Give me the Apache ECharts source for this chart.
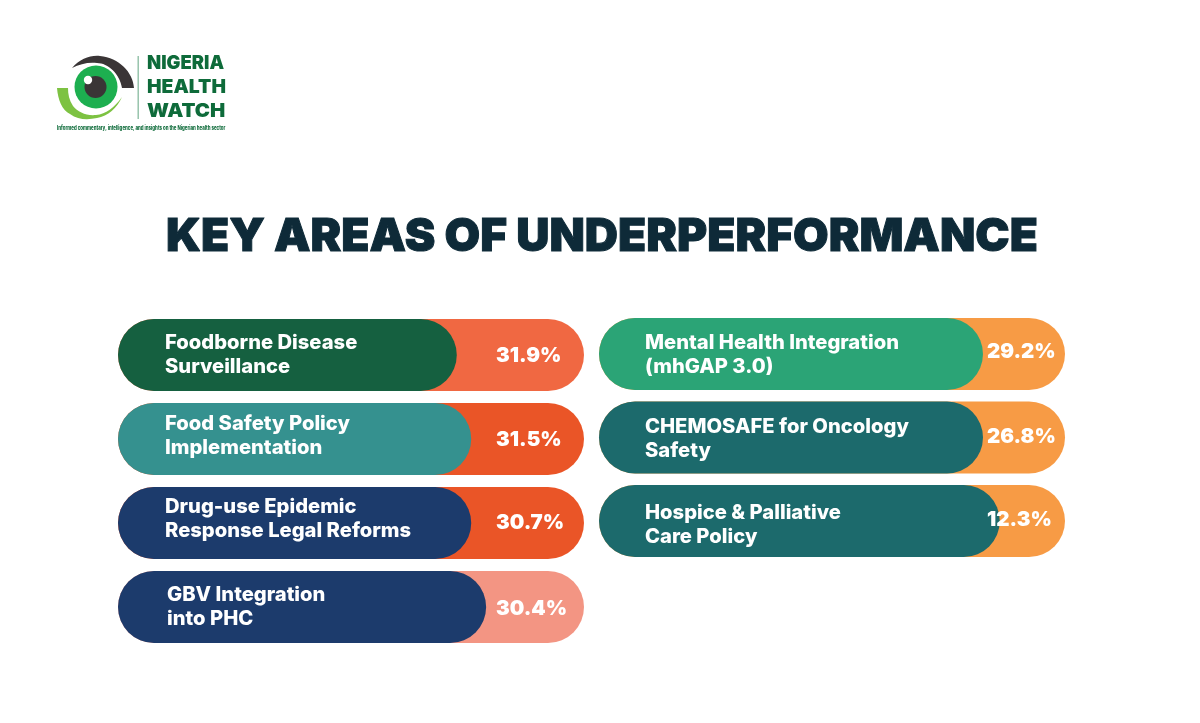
<!DOCTYPE html>
<html>
<head>
<meta charset="utf-8">
<style>
html,body{margin:0;padding:0;background:#fff;}
#main{width:1200px;height:723px;}
</style>
<script src="https://cdn.jsdelivr.net/npm/echarts@6/dist/echarts.min.js"></script>
</head>
<body>
<div id="main"></div>
<script>
// left column
var leftNames = ['Foodborne Disease\nSurveillance', 'Food Safety Policy\nImplementation', 'Drug-use Epidemic\nResponse Legal Reforms', 'GBV Integration\ninto PHC'];
var leftValues = [31.9, 31.5, 30.7, 30.4];
var leftFill = [72.7, 75.8, 75.8, 79];   // length of the coloured pill, % of the track as drawn
// right column
var rightNames = ['Mental Health Integration\n(mhGAP 3.0)', 'CHEMOSAFE for Oncology\nSafety', 'Hospice & Palliative\nCare Policy'];
var rightValues = [29.2, 26.8, 12.3];
var rightFill = [82.4, 82.4, 86];

// colours
var leftFillColors = ['#156040', '#35918F', '#1C3B6C', '#1C3B6C'];
var leftTrackColors = ['#F06842', '#EA5527', '#EA5527', '#F39583'];
var rightFillColors = ['#2BA476', '#1C6A6C', '#1C6A6C'];
var rightTrackColors = ['#F79B45', '#F79B45', '#F79B45'];

// label offsets inside each bar, the text is not placed evenly in the reference
var leftNamePos = [[47, 12], [47, 9], [47, 8], [49, 12]];
var leftValuePos = [[378, 26], [378, 26], [378, 25], [378, 27]];
var rightNamePos = [[46, 13], [46, 13], [46, 16]];
var rightValuePos = [[388, 23], [388, 25], [388, 24]];

var font = 'Inter';
var barH = 72;

function coloured(vals, colors, positions) {
    return vals.map(function (v, i) {
        return {value: v, itemStyle: {color: colors[i]}, label: {position: positions[i]}};
    });
}

// two bars per row: the full track with the % and the pill with the name
function columnSeries(idx, names, values, fill, fillColors, trackColors, namePos, valuePos) {
    return [{
        type: 'bar',
        xAxisIndex: idx,
        yAxisIndex: idx,
        barWidth: barH,
        barGap: '-100%',
        silent: true,
        itemStyle: {borderRadius: barH / 2},
        label: {
            show: true,
            color: '#fff',
            fontFamily: font,
            fontWeight: 900,
            fontSize: 20.5,
            formatter: function (p) { return values[p.dataIndex].toFixed(1) + '%'; }
        },
        data: coloured(values.map(function () { return 100; }), trackColors, valuePos)
    }, {
        type: 'bar',
        xAxisIndex: idx,
        yAxisIndex: idx,
        barWidth: barH,
        barGap: '-100%',
        silent: true,
        itemStyle: {borderRadius: barH / 2},
        label: {
            show: true,
            color: '#fff',
            fontFamily: font,
            fontWeight: 800,
            fontSize: 20.2,
            lineHeight: 24,
            formatter: function (p) { return names[p.dataIndex]; }
        },
        data: coloured(fill, fillColors, namePos)
    }];
}

// logo, no chart data in it
echarts.graphic.registerShape('eyeLid', echarts.graphic.extendPath('M72 68 C80 59 90 55 100 56 C119 58 133 72 134 88 L122 88 C120 74 108 63 97 63 C88 62 80 64 72 68 Z', {}));
echarts.graphic.registerShape('eyeCup', echarts.graphic.extendPath('M57 88 C58 100 62 110 70 114 C78 120 88 120 97 118 C108 116 117 108 122 97 C114 108 106 114 96 115 C86 116 78 112 73 106 C69 100 68 94 68 88 Z', {}));
var logoGreen = '#0E6B3A';
function logoText(text, y, stretch) {
    return {type: 'text', x: 147, y: y, scaleX: stretch, style: {text: text, fill: logoGreen, font: '900 19px Inter'}};
}
var logo = [
    {type: 'eyeLid', style: {fill: '#3A3536'}},
    {type: 'eyeCup', style: {fill: '#7DC242'}},
    {type: 'circle', shape: {cx: 96, cy: 87, r: 21.5}, style: {fill: '#1DAF50'}},
    {type: 'circle', shape: {cx: 95.5, cy: 87, r: 11}, style: {fill: '#3A3536'}},
    {type: 'circle', shape: {cx: 88, cy: 80, r: 4.2}, style: {fill: '#fff'}},
    {type: 'rect', shape: {x: 137.5, y: 56, width: 1.4, height: 63}, style: {fill: '#8FBFA5'}},
    logoText('NIGERIA', 54, 0.97),
    logoText('HEALTH', 78, 1.02),
    logoText('WATCH', 102, 1.07),
    {type: 'text', x: 57, y: 125, scaleX: 0.78, style: {
        text: 'Informed commentary, intelligence, and insights on the Nigerian health sector',
        fill: logoGreen, font: '800 5.6px "Liberation Sans Narrow", Inter'
    }}
];

var myChart = echarts.init(document.getElementById('main'), null, {renderer: 'canvas'});
myChart.setOption({
    backgroundColor: '#fff',
    animation: false,
    title: {
        text: 'KEY AREAS OF UNDERPERFORMANCE',
        left: 597,
        top: 209,
        textAlign: 'center',
        textStyle: {color: '#0E2A38', fontFamily: font, fontWeight: 900, fontSize: 46, textBorderColor: '#0E2A38', textBorderWidth: 1}
    },
    grid: [
        {left: 118, width: 466, top: 313, height: 336},
        {left: 599, width: 466, top: 312.25, height: 250.5}
    ],
    xAxis: [
        {gridIndex: 0, type: 'value', min: 0, max: 100, show: false},
        {gridIndex: 1, type: 'value', min: 0, max: 100, show: false}
    ],
    yAxis: [
        {gridIndex: 0, type: 'category', inverse: true, data: leftNames, show: false},
        {gridIndex: 1, type: 'category', inverse: true, data: rightNames, show: false}
    ],
    series: columnSeries(0, leftNames, leftValues, leftFill, leftFillColors, leftTrackColors, leftNamePos, leftValuePos)
        .concat(columnSeries(1, rightNames, rightValues, rightFill, rightFillColors, rightTrackColors, rightNamePos, rightValuePos)),
    graphic: logo
});
</script>
</body>
</html>
